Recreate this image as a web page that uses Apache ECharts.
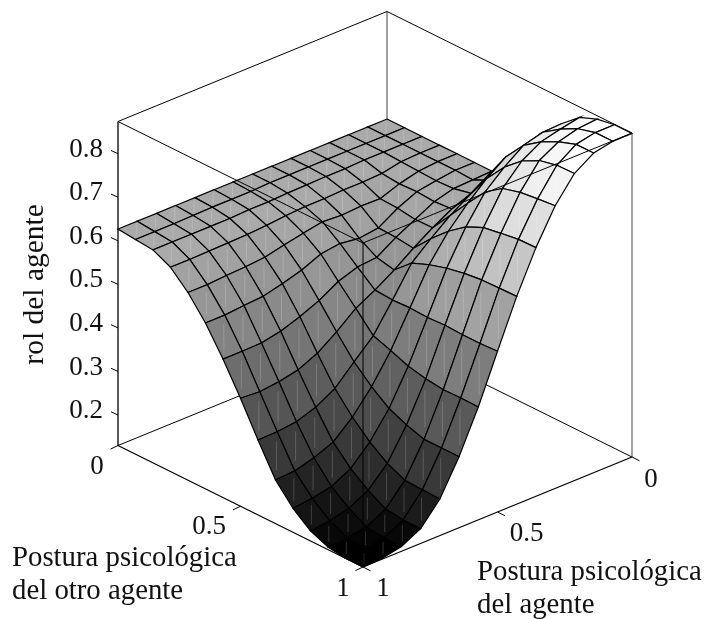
<!DOCTYPE html>
<html><head><meta charset="utf-8">
<style>html,body{margin:0;padding:0;background:#fff}#c{width:704px;height:619px}</style>
<script src="https://cdn.jsdelivr.net/npm/echarts@6/dist/echarts.min.js"></script>
</head><body><div id="c"></div>
<script>
// rows: agent posture 0..1 (14 steps); columns: other agent's posture 0..1 (14 steps)
var roleValues = [
[.627,.627,.627,.627,.627,.627,.627,.662,.731,.777,.816,.850,.866,.873,.873],
[.627,.627,.627,.627,.627,.627,.625,.644,.703,.763,.814,.841,.862,.873,.873],
[.627,.627,.627,.625,.623,.621,.623,.632,.694,.756,.802,.830,.850,.864,.864],
[.627,.627,.627,.616,.612,.614,.611,.614,.665,.724,.770,.804,.825,.834,.835],
[.627,.627,.625,.614,.596,.594,.588,.589,.637,.685,.731,.759,.770,.775,.779],
[.627,.627,.625,.614,.597,.567,.565,.560,.602,.639,.669,.687,.694,.700,.701],
[.627,.627,.624,.612,.594,.561,.537,.528,.564,.580,.592,.600,.605,.606,.607],
[.627,.627,.623,.612,.597,.567,.533,.500,.497,.499,.497,.499,.497,.497,.499],
[.627,.625,.621,.609,.589,.561,.518,.476,.433,.419,.403,.394,.389,.390,.389],
[.627,.625,.621,.605,.580,.542,.492,.440,.391,.354,.324,.306,.293,.293,.293],
[.627,.625,.619,.602,.570,.529,.473,.409,.348,.302,.265,.236,.217,.215,.214],
[.627,.624,.619,.601,.566,.518,.458,.389,.323,.263,.222,.192,.169,.164,.164],
[.627,.623,.619,.600,.564,.515,.449,.380,.308,.245,.199,.169,.146,.141,.141],
[.627,.623,.619,.599,.561,.511,.448,.375,.303,.233,.190,.158,.139,.132,.132],
[.627,.623,.619,.599,.561,.511,.448,.378,.302,.230,.185,.153,.136,.130,.130]
];
var zTicks = [0.2,0.3,0.4,0.5,0.6,0.7,0.8];
var otherTicks = [0,0.5,1];
var agentTicks = [0,0.5,1];
var zAxisName = 'rol del agente';
var otherAxisName = ['Postura psicológica','del otro agente'];
var agentAxisName = ['Postura psicológica','del agente'];

var Z_MIN=0.13, Z_MAX=0.874;
var FONT='"Liberation Serif","Times New Roman",serif';
var STEPS=14;
function project(u,v,z){
  return [387+245*u-269*v, 335.5+121.5*u+110*v-(z-Z_MIN)*435.5];
}
function gray(z){
  var t=(z-Z_MIN)/(Z_MAX-Z_MIN);
  var l=Math.min(63,Math.floor(t*64));
  var g=Math.round(l/63*255);
  return 'rgb('+g+','+g+','+g+')';
}
// cells ordered back to front
var cells=[];
for(var s=0;s<=2*(STEPS-1);s++){
  for(var i=0;i<STEPS;i++){
    var j=s-i;
    if(j>=0&&j<STEPS) cells.push([i,j]);
  }
}
function seg(api,a,b,st){
  var p=api.coord(a),q=api.coord(b);
  return {type:'line',shape:{x1:p[0],y1:p[1],x2:q[0],y2:q[1]},style:st,silent:true};
}
function lineSt(c,w){return {stroke:c,lineWidth:w,fill:null};}

function renderSurface(params,api){
  var i=api.value(0),j=api.value(1);
  var n=function(a,b){return project(a/STEPS,b/STEPS,roleValues[b][a]);};
  var a=n(i,j),b=n(i+1,j),c=n(i+1,j+1),d=n(i,j+1);
  var pts=[a,b,c,d].map(function(p){return api.coord(p);});
  var mx=(b[0]+d[0])/2;
  var s0=[mx,a[1]+(c[1]-a[1])*0.2];
  var s1=[mx,a[1]+(c[1]-a[1])*0.8];
  return {type:'group',children:[
    {type:'polygon',shape:{points:pts},style:{fill:gray(roleValues[j][i]),stroke:'#000',lineWidth:1.2},silent:true},
    seg(api,s0,s1,lineSt('rgba(255,255,255,0.18)',1))
  ]};
}
var corners={
  bl:[0,1],br:[1,0],bf:[1,1],bb:[0,0]
};
function P(c,z){return project(c[0],c[1],z);}
function renderBack(params,api){
  var C=corners,k=[];
  k.push(seg(api,P(C.bb,Z_MIN),P(C.bl,Z_MIN),lineSt('#000',1)));
  k.push(seg(api,P(C.bb,Z_MIN),P(C.br,Z_MIN),lineSt('#000',1)));
  k.push(seg(api,P(C.bb,Z_MIN),P(C.bb,Z_MAX),lineSt('#777',1.4)));
  k.push(seg(api,P(C.bl,Z_MAX),P(C.bb,Z_MAX),lineSt('#000',1)));
  k.push(seg(api,P(C.bb,Z_MAX),P(C.br,Z_MAX),lineSt('#000',1)));
  return {type:'group',children:k};
}
function label(api,pos,dx,dy,text,size){
  var p=api.coord(pos);
  return {type:'text',x:p[0]+dx,y:p[1]+dy,silent:true,
    style:{text:text,fill:'#111',font:size+'px '+FONT,align:'center',verticalAlign:'middle'}};
}
var otherLabelOffsets=[[-21,21.5],[-31.5,21],[-20,22]];
var agentLabelOffsets=[[19,23],[29,22],[20,22]];
function renderFront(params,api){
  var C=corners,k=[];
  k.push(seg(api,P(C.bl,Z_MIN),P(C.bl,Z_MAX),lineSt('#000',1.3)));
  k.push(seg(api,P(C.br,Z_MIN),P(C.br,Z_MAX),lineSt('#444',1)));
  k.push(seg(api,P(C.bf,Z_MIN),P(C.bf,Z_MAX),lineSt('#000',1)));
  k.push(seg(api,P(C.bl,Z_MAX),P(C.bf,Z_MAX),lineSt('#000',1)));
  k.push(seg(api,P(C.bf,Z_MAX),P(C.br,Z_MAX),lineSt('#000',1)));
  k.push(seg(api,P(C.bl,Z_MIN),P(C.bf,Z_MIN),lineSt('#000',1.3)));
  k.push(seg(api,P(C.bf,Z_MIN),P(C.br,Z_MIN),lineSt('#000',1.3)));
  zTicks.forEach(function(t){
    var p=project(0,1,t);
    k.push(seg(api,p,[p[0]-7,p[1]-3.2],lineSt('#000',1)));
    var q=api.coord(p);
    k.push({type:'text',x:q[0]-15,y:q[1]-4,silent:true,style:{text:t.toFixed(1),fill:'#111',font:'27px '+FONT,align:'right',verticalAlign:'middle'}});
  });
  otherTicks.forEach(function(t,n){
    var p=project(t,1,Z_MIN);
    k.push(seg(api,p,[p[0]-7.5,p[1]+3.6],lineSt('#000',1)));
    k.push(label(api,p,otherLabelOffsets[n][0],otherLabelOffsets[n][1],String(t),27));
  });
  agentTicks.forEach(function(t,n){
    var p=project(1,t,Z_MIN);
    k.push(seg(api,p,[p[0]+7.5,p[1]+3.8],lineSt('#000',1)));
    k.push(label(api,p,agentLabelOffsets[n][0],agentLabelOffsets[n][1],String(t),27));
  });
  // axis names
  var o=project(0.5,1,Z_MIN),a=project(1,0.5,Z_MIN),zc=project(0,1,0.5);
  otherAxisName.forEach(function(s,n){
    var q=api.coord(o);
    k.push({type:'text',x:q[0]-228.5,y:q[1]+52+n*33,silent:true,style:{text:s,fill:'#111',font:'28.8px '+FONT,align:'left',verticalAlign:'middle'}});
  });
  agentAxisName.forEach(function(s,n){
    var q=api.coord(a);
    k.push({type:'text',x:q[0]-20.5,y:q[1]+60+n*33,silent:true,style:{text:s,fill:'#111',font:'28.8px '+FONT,align:'left',verticalAlign:'middle'}});
  });
  var q=api.coord(zc);
  k.push({type:'text',x:q[0]-83,y:q[1],rotation:Math.PI/2,silent:true,style:{text:zAxisName,fill:'#111',font:'29.5px '+FONT,align:'center',verticalAlign:'middle'}});
  return {type:'group',children:k};
}
var chart=echarts.init(document.getElementById('c'),null,{renderer:'canvas'});
chart.setOption({
  animation:false,
  backgroundColor:'#fff',
  grid:{left:0,right:0,top:0,bottom:0},
  xAxis:{type:'value',min:0,max:704,show:false},
  yAxis:{type:'value',min:0,max:619,inverse:true,show:false},
  tooltip:{show:false},
  series:[
    {type:'custom',coordinateSystem:'cartesian2d',clip:false,silent:true,z:1,data:[[0,0]],renderItem:renderBack},
    {type:'custom',coordinateSystem:'cartesian2d',clip:false,silent:true,z:2,data:cells,renderItem:renderSurface},
    {type:'custom',coordinateSystem:'cartesian2d',clip:false,silent:true,z:3,data:[[0,0]],renderItem:renderFront}
  ]
});
</script></body></html>
